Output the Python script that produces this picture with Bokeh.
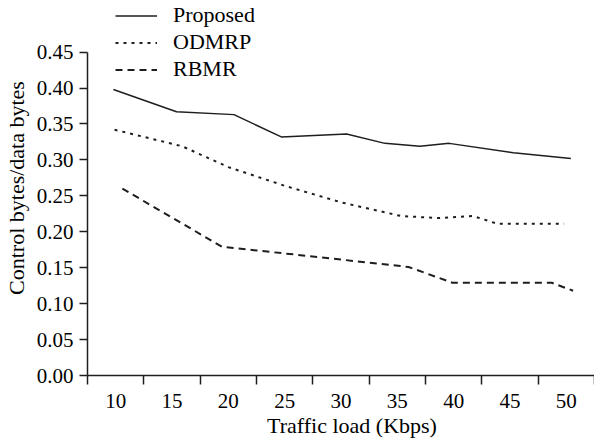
from bokeh.plotting import figure
from bokeh.models import Range1d, FixedTicker, Legend, LegendItem
from bokeh.embed import file_html
from bokeh.resources import INLINE

# ---- data ----
x_tick_values = [10, 15, 20, 25, 30, 35, 40, 45, 50]
x_tick_edges = [7.5, 12.5, 17.5, 22.5, 27.5, 32.5, 37.5, 42.5, 47.5, 52.5]
y_tick_values = [0.0, 0.05, 0.10, 0.15, 0.20, 0.25, 0.30, 0.35, 0.40, 0.45]
y_tick_labels = ["0.00", "0.05", "0.10", "0.15", "0.20", "0.25", "0.30", "0.35", "0.40", "0.45"]

proposed_x = [9.8, 15.4, 20.5, 24.7, 30.5, 33.9, 37.0, 39.6, 45.3, 50.4]
proposed_y = [0.398, 0.367, 0.363, 0.332, 0.336, 0.323, 0.319, 0.323, 0.310, 0.302]

odmrp_x = [9.9, 15.9, 20.0, 25.0, 30.0, 35.3, 38.6, 41.7, 43.9, 49.8]
odmrp_y = [0.342, 0.319, 0.290, 0.264, 0.241, 0.222, 0.219, 0.222, 0.211, 0.211]

rbmr_x = [10.6, 19.45, 26.1, 36.0, 39.9, 48.7, 50.6]
rbmr_y = [0.260, 0.179, 0.168, 0.151, 0.129, 0.129, 0.118]

series_names = ["Proposed", "ODMRP", "RBMR"]
x_title = "\u00a0\u00a0\u00a0\u00a0Traffic load (Kbps)"
y_title = "Control bytes/data bytes"

FONT = "Liberation Serif"
INK = "#1e1e1e"

p = figure(width=594, height=440, output_backend="svg", toolbar_location=None,
           x_range=Range1d(7.5, 52.5), y_range=Range1d(0, 0.5218),
           min_border_left=87, min_border_right=0, min_border_top=0,
           min_border_bottom=62)
p.outline_line_color = None
p.grid.visible = False
p.background_fill_color = "white"
p.border_fill_color = "white"

r1 = p.line(proposed_x, proposed_y, line_color=INK, line_width=1.5)
r2 = p.line(odmrp_x, odmrp_y, line_color=INK, line_width=2, line_dash="3 5")
r3 = p.line(rbmr_x, rbmr_y, line_color=INK, line_width=2, line_dash="7 5")

# x axis: labels at values, tick marks between them
xa = p.xaxis[0]
xa.ticker = FixedTicker(ticks=x_tick_values, minor_ticks=x_tick_edges)
xa.axis_line_color = INK
xa.axis_line_width = 1.5
xa.major_tick_line_color = None
xa.major_tick_out = 8
xa.major_tick_in = 0
xa.minor_tick_line_color = INK
xa.minor_tick_line_width = 1.5
xa.minor_tick_out = 9
xa.minor_tick_in = 0
xa.major_label_text_font = FONT
xa.major_label_text_font_size = "21px"
xa.major_label_text_color = "black"
xa.major_label_standoff = 9
xa.axis_label = x_title
xa.axis_label_text_font = FONT
xa.axis_label_text_font_size = "22px"
xa.axis_label_text_font_style = "normal"
xa.axis_label_text_color = "black"
xa.axis_label_standoff = 2

# y axis
ya = p.yaxis[0]
ya.ticker = FixedTicker(ticks=y_tick_values, minor_ticks=[])
ya.bounds = (0, 0.45)
ya.major_label_overrides = {v: s for v, s in zip(y_tick_values, y_tick_labels)}
ya.axis_line_color = INK
ya.axis_line_width = 1.5
ya.major_tick_line_color = INK
ya.major_tick_line_width = 1.5
ya.major_tick_out = 8
ya.major_tick_in = 0
ya.minor_tick_out = 0
ya.minor_tick_in = 0
ya.major_label_text_font = FONT
ya.major_label_text_font_size = "21px"
ya.major_label_text_color = "black"
ya.major_label_standoff = 6
ya.axis_label = y_title
ya.axis_label_text_font = FONT
ya.axis_label_text_font_size = "22px"
ya.axis_label_text_font_style = "normal"
ya.axis_label_text_color = "black"
ya.axis_label_standoff = 5

legend = Legend(items=[LegendItem(label=n, renderers=[r]) for n, r in zip(series_names, [r1, r2, r3])],
                location=(28, 292.5), orientation="vertical")
legend.border_line_color = None
legend.background_fill_alpha = 0
legend.padding = 0
legend.margin = 0
legend.spacing = 0
legend.glyph_width = 42
legend.glyph_height = 27
legend.label_height = 27
legend.label_standoff = 16
legend.label_text_font = FONT
legend.label_text_font_size = "22px"
legend.label_text_color = "black"
p.add_layout(legend)

open("out.html", "w").write(file_html(p, INLINE))
